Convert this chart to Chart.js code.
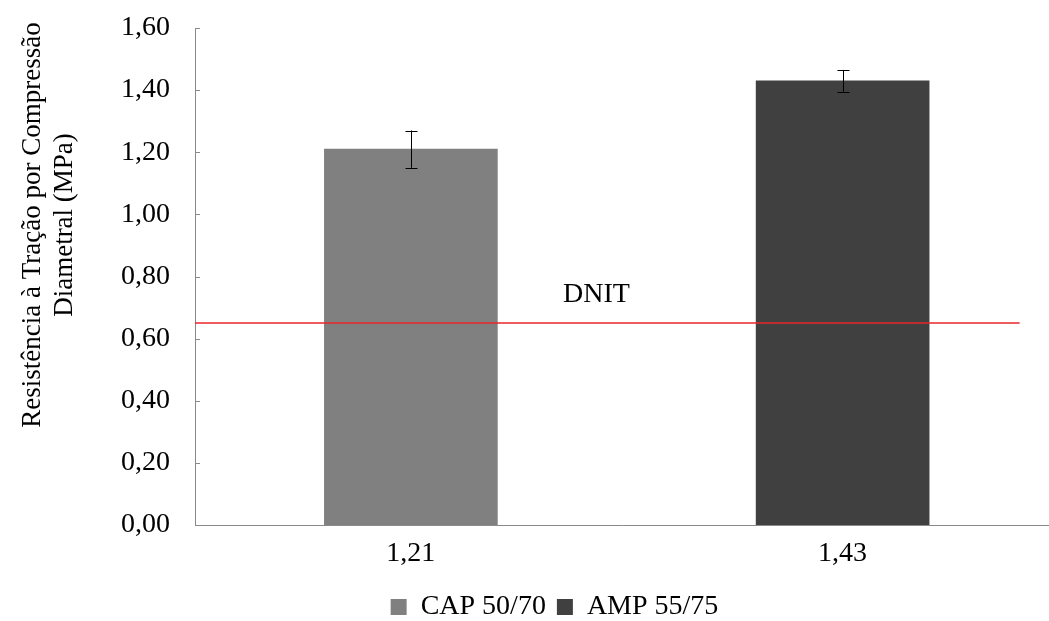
<!DOCTYPE html>
<html>
<head>
<meta charset="utf-8">
<script src="https://cdn.jsdelivr.net/npm/chart.js@4"></script>
<style>
  body { margin: 0; background: #fff; }
</style>
</head>
<body>
<canvas id="grafico" width="1049" height="621"></canvas>
<script>
// dados
const categorias = ['1,21', '1,43'];
const series = ['CAP 50/70', 'AMP 55/75'];
const valores = [1.21, 1.43];
const erros = [0.06, 0.035];
const cores = ['#808080', '#404040'];
const limiteDNIT = 0.65;
const rotuloLimite = 'DNIT';
const tituloY = ['Resistência à Tração por Compressão', 'Diametral (MPa)'];

const fonte = 'Liberation Serif, Times New Roman, serif';
const corEixo = '#898989';

// barras de erro, marcas do eixo y, texto DNIT e título do eixo y
const extras = {
  id: 'extras',
  afterDatasetsDraw(chart) {
    const ctx = chart.ctx;
    const x = chart.scales.x, y = chart.scales.y;
    ctx.save();
    ctx.strokeStyle = '#000';
    ctx.lineWidth = 1;
    valores.forEach((v, i) => {
      const px = Math.round(x.getPixelForValue(i)) + 0.5;
      const top = y.getPixelForValue(v + erros[i]);
      const bot = y.getPixelForValue(v - erros[i]);
      ctx.beginPath();
      ctx.moveTo(px, top); ctx.lineTo(px, bot);
      ctx.moveTo(px - 6, Math.round(top) + 0.5); ctx.lineTo(px + 6, Math.round(top) + 0.5);
      ctx.moveTo(px - 6, Math.round(bot) + 0.5); ctx.lineTo(px + 6, Math.round(bot) + 0.5);
      ctx.stroke();
    });
    // marcas para dentro no eixo y
    ctx.strokeStyle = corEixo;
    y.ticks.forEach(t => {
      const py = Math.round(y.getPixelForValue(t.value)) + 0.5;
      ctx.beginPath();
      ctx.moveTo(chart.chartArea.left, py); ctx.lineTo(chart.chartArea.left + 5, py);
      ctx.stroke();
    });
    ctx.fillStyle = '#000';
    ctx.font = '28px ' + fonte;
    ctx.textAlign = 'center';
    ctx.textBaseline = 'alphabetic';
    ctx.fillText(rotuloLimite, x.getPixelForValue(0.43), y.getPixelForValue(limiteDNIT) - 21);
    // título do eixo y em duas linhas
    ctx.font = '27px ' + fonte;
    ctx.translate(0, 225);
    ctx.rotate(-Math.PI / 2);
    ctx.textBaseline = 'middle';
    ctx.fillText(tituloY[0], 0, 33);
    ctx.fillText(tituloY[1], 0, 65);
    ctx.restore();
  }
};

const ctx = document.getElementById('grafico').getContext('2d');
const grafico = new Chart(ctx, {
  type: 'bar',
  data: {
    datasets: [
      {
        label: series[0],
        data: [{x: 0, y: valores[0]}],
        backgroundColor: cores[0],
        barThickness: 173,
        grouped: false
      },
      {
        label: series[1],
        data: [{x: 1, y: valores[1]}],
        backgroundColor: cores[1],
        barThickness: 173,
        grouped: false
      },
      {
        type: 'line',
        label: rotuloLimite,
        data: [{x: -0.5, y: limiteDNIT}, {x: 1.41, y: limiteDNIT}],
        borderColor: '#e8262a',
        borderWidth: 1.5,
        pointRadius: 0,
        order: -1
      }
    ]
  },
  options: {
    responsive: false,
    animation: false,
    layout: { padding: { left: 60, right: 0, top: 28, bottom: 0 } },
    plugins: {
      tooltip: { enabled: false },
      legend: {
        position: 'bottom',
        maxHeight: 39,
        labels: {
          font: { family: fonte, size: 28, lineHeight: 0.5 },
          color: '#000',
          boxWidth: 16,
          boxHeight: 16,
          padding: 11,
          filter: item => item.datasetIndex < 2
        }
      }
    },
    scales: {
      x: {
        type: 'linear',
        offset: false,
        min: -0.5,
        max: 1.478,
        afterBuildTicks: s => { s.ticks = categorias.map((c, i) => ({ value: i })); },
        afterFit: s => { s.height = 57; s.paddingLeft = 0; s.paddingRight = 0; },
        grid: { display: false, drawTicks: false },
        border: { color: corEixo, width: 1 },
        ticks: {
          callback: v => categorias[v],
          font: { family: fonte, size: 28 },
          color: '#000',
          padding: 12,
          maxRotation: 0
        }
      },
      y: {
        min: 0,
        max: 1.6,
        afterFit: s => { s.width = 135; s.paddingTop = 0; s.paddingBottom = 0; },
        grid: { display: false, drawTicks: false },
        border: { color: corEixo, width: 1 },
        ticks: {
          stepSize: 0.2,
          callback: v => v.toFixed(2).replace('.', ','),
          font: { family: fonte, size: 28 },
          color: '#000',
          padding: 25
        }
      }
    }
  },
  plugins: [extras]
});
</script>
</body>
</html>
